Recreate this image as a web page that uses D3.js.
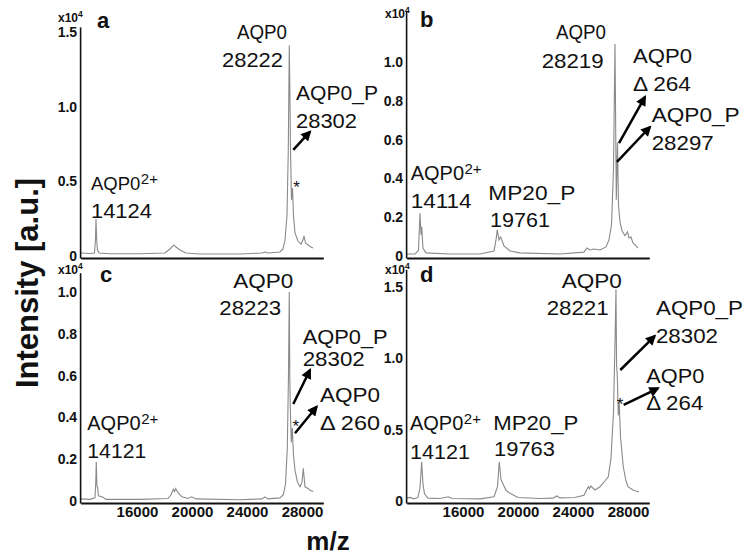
<!DOCTYPE html>
<html><head><meta charset="utf-8">
<script src="https://cdn.jsdelivr.net/npm/d3@7"></script>
<style>
body{margin:0;background:#fff}
svg{display:block}
text{font-family:"Liberation Sans",Arial,Helvetica,sans-serif;fill:#111}
</style>
</head><body>
<svg id="chart" width="750" height="559"></svg>
<script>
// ---------------- DATA (m/z, intensity in units of 10^4) ----------------
const mzA = [11900,12582,12909,12982,13018,13069,13127,13236,14036,16218,18036,18400,18691,18836,19127,19564,20582,23491,25091,25309,25527,26400,26618,26764,26909,27004,27076,27127,27164,27236,27309,27382,27491,27709,27927,28073,28145,28255,28436,28655,28800];
const intA = [0.02,0.017,0.02,0.11,0.25,0.11,0.04,0.02,0.015,0.015,0.02,0.047,0.074,0.06,0.04,0.02,0.013,0.013,0.02,0.027,0.02,0.027,0.047,0.107,0.27,0.71,1.41,1.04,0.71,0.375,0.455,0.27,0.154,0.10,0.08,0.107,0.134,0.087,0.074,0.06,0.054];

const mzB = [11900,12509,12764,12873,12945,12996,13091,13309,15055,17236,18255,18400,18495,18618,18742,18982,19418,20145,23055,24800,25018,25236,25527,25964,26400,26618,26800,26945,27055,27150,27236,27309,27418,27564,27782,27964,28073,28218,28364,28582,28727];
const intB = [0.01,0.01,0.03,0.22,0.11,0.15,0.04,0.016,0.01,0.01,0.026,0.083,0.135,0.083,0.098,0.052,0.026,0.016,0.01,0.02,0.041,0.031,0.036,0.031,0.047,0.083,0.16,0.445,1.093,0.29,0.585,0.264,0.176,0.13,0.104,0.124,0.093,0.098,0.067,0.052,0.041];

const mzC = [11900,12582,12945,13004,13040,13091,13135,13200,13527,13745,16218,18255,18473,18640,18727,18815,18982,19273,19709,19978,20291,23491,25091,25309,25527,26400,26640,26800,26931,27018,27076,27113,27149,27222,27295,27382,27491,27673,27855,28000,28095,28218,28436,28618,28822];
const intC = [0.01,0.008,0.015,0.09,0.188,0.07,0.065,0.025,0.018,0.008,0.008,0.012,0.03,0.056,0.045,0.06,0.04,0.02,0.012,0.02,0.01,0.006,0.01,0.02,0.01,0.015,0.03,0.08,0.25,0.6,1.0,0.6,0.45,0.28,0.35,0.22,0.148,0.09,0.068,0.09,0.156,0.068,0.06,0.05,0.045];

const mzD = [11900,12145,12436,12727,12873,12996,13091,13200,13455,14327,14931,15200,17236,18255,18509,18640,18764,18887,19127,19418,20000,21600,22545,22815,23055,24145,24800,25113,25200,25287,25600,25964,26327,26567,26764,26945,27055,27127,27171,27222,27295,27367,27455,27658,27855,28000,28364,28564,28800];
const intD = [0.02,0.025,0.015,0.025,0.09,0.275,0.12,0.05,0.02,0.018,0.03,0.018,0.015,0.03,0.1,0.275,0.15,0.124,0.075,0.054,0.025,0.018,0.02,0.035,0.022,0.025,0.04,0.1,0.085,0.105,0.077,0.1,0.14,0.17,0.3,0.62,1.1,1.483,0.95,0.88,0.6,0.685,0.45,0.24,0.14,0.1,0.077,0.07,0.065];

// tick values / labels
const xTicks = [16000, 20000, 24000, 28000];
const yTicksA = [0, 0.5, 1.0, 1.5];
const yTicksB = [0, 0.2, 0.4, 0.6, 0.8, 1.0];
const yTicksC = [0, 0.2, 0.4, 0.6, 0.8, 1.0];
const yTicksD = [0, 0.5, 1.0, 1.5];
const panelLetters = ["a", "b", "c", "d"];

// peak annotations (text, anchored in data coordinates)
const annotA = [
  {text:"AQP0", mz:23273, v:1.452, w:50},
  {text:"28222", mz:22182, v:1.265, w:61},
  {text:"AQP0_P", mz:27564, v:1.044, w:82},
  {text:"28302", mz:27564, v:0.857, w:61},
  {text:"AQP0", sup:"2+", mz:12655, v:0.442, fs:18.5},
  {text:"14124", mz:12655, v:0.254, w:61}
];
const annotB = [
  {text:"AQP0", mz:22764, v:1.119, w:50},
  {text:"28219", mz:21724, v:0.969, w:62},
  {text:"AQP0", mz:28364, v:0.995, w:59},
  {text:"Δ 264", mz:28364, v:0.851, w:58},
  {text:"AQP0_P", mz:29724, v:0.691, w:88},
  {text:"28297", mz:29724, v:0.546, w:62},
  {text:"AQP0", sup:"2+", mz:12196, v:0.392, fs:20},
  {text:"14114", mz:12196, v:0.247, w:61},
  {text:"MP20_P", mz:17840, v:0.289, w:87},
  {text:"19761", mz:17964, v:0.149, w:60}
];
const annotC = [
  {text:"AQP0", mz:23004, v:1.018, w:60},
  {text:"28223", mz:21986, v:0.89, w:62},
  {text:"AQP0_P", mz:28051, v:0.752, w:85},
  {text:"28302", mz:28051, v:0.645, w:62},
  {text:"AQP0", mz:29309, v:0.475, w:60},
  {text:"Δ 260", mz:29309, v:0.34, w:60},
  {text:"AQP0", sup:"2+", mz:12386, v:0.34, fs:20},
  {text:"14121", mz:12386, v:0.204, w:59}
];
const annotD = [
  {text:"AQP0", mz:23178, v:1.49, w:60},
  {text:"28221", mz:22087, v:1.303, w:62},
  {text:"AQP0_P", mz:30036, v:1.303, w:87},
  {text:"28302", mz:30036, v:1.105, w:62},
  {text:"AQP0", mz:29331, v:0.825, w:58},
  {text:"Δ 264", mz:29331, v:0.638, w:57},
  {text:"AQP0", sup:"2+", mz:12145, v:0.498, fs:20},
  {text:"14121", mz:12145, v:0.292, w:60},
  {text:"MP20_P", mz:18204, v:0.498, w:85},
  {text:"19763", mz:18255, v:0.315, w:61}
];
const starsA = [{mz:27368, v:0.42}];
const starsB = [];
const starsC = [{mz:27318, v:0.33}];
const starsD = [{mz:27178, v:0.638}];
const arrowsA = [{from:[27367,0.71], to:[28582,0.832]}];
const arrowsB = [{from:[27345,0.582], to:[29236,0.82]}, {from:[27200,0.485], to:[29600,0.665]}];
const arrowsC = [{from:[27367,0.464], to:[28582,0.627]}, {from:[27491,0.324], to:[29066,0.451]}];
const arrowsD = [{from:[27440,0.918], to:[29942,1.156]}, {from:[27687,0.673], to:[30182,0.79]}];

// ---------------- LAYOUT ----------------
const mzDomain = [11900, 29550];
const panels = [
  {mz:mzA, val:intA, ticks:yTicksA, x0:80.6, x1:323.3, y0:256, yTop:27.4, yMax:1.53, xLabels:false, annot:annotA, stars:starsA, arrows:arrowsA, expX:58, expY:21.5, letterX:97, letterY:28},
  {mz:mzB, val:intB, ticks:yTicksB, x0:406.6, x1:649.3, y0:256, yTop:11.6, yMax:1.26, xLabels:false, annot:annotB, stars:starsB, arrows:arrowsB, expX:385, expY:18, letterX:420, letterY:27},
  {mz:mzC, val:intC, ticks:yTicksC, x0:80.6, x1:323.3, y0:501, yTop:273.2, yMax:1.09, xLabels:true, annot:annotC, stars:starsC, arrows:arrowsC, expX:58, expY:274, letterX:100, letterY:282},
  {mz:mzD, val:intD, ticks:yTicksD, x0:406.6, x1:649.3, y0:501, yTop:269.8, yMax:1.62, xLabels:true, annot:annotD, stars:starsD, arrows:arrowsD, expX:385, expY:274, letterX:420, letterY:282}
];
const fmtY = d3.format(".1f");

const svg = d3.select("#chart");
svg.append("defs").append("marker")
  .attr("id", "ah").attr("viewBox", "0 0 10 10")
  .attr("refX", 8).attr("refY", 5)
  .attr("markerWidth", 4.6).attr("markerHeight", 4.2)
  .attr("orient", "auto")
  .append("path").attr("d", "M0,0 L10,5 L0,10 Z").attr("fill", "#000");

panels.forEach((p, i) => {
  const g = svg.append("g");
  const x = d3.scaleLinear().domain(mzDomain).range([p.x0, p.x1]);
  const y = d3.scaleLinear().domain([0, p.yMax]).range([p.y0, p.yTop]);

  // spectrum
  const pts = p.mz.map((m, k) => [m, p.val[k]]);
  g.append("path").datum(pts)
    .attr("d", d3.line().x(d => x(d[0])).y(d => y(d[1])))
    .attr("fill", "none").attr("stroke", "#8a8a8a").attr("stroke-width", 1.1);

  // y axis
  const ya = g.append("g").attr("transform", `translate(${p.x0},0)`)
    .call(d3.axisLeft(y).tickValues(p.ticks).tickFormat(v => v === 0 ? "0" : fmtY(v)).tickSize(0).tickPadding(3.5));
  ya.select(".domain").remove();
  ya.selectAll("text").attr("font-size", 14).attr("font-weight", "bold")
    .attr("font-family", '"Liberation Sans",Arial,sans-serif').attr("fill", "#111");
  g.append("line").attr("x1", p.x0).attr("x2", p.x0).attr("y1", p.y0 + 2.5).attr("y2", p.yTop)
    .attr("stroke", "#111").attr("stroke-width", 1.6);

  // x axis
  const xa = g.append("g").attr("transform", `translate(0,${p.y0 + 2})`)
    .call(d3.axisBottom(x).tickValues(p.xLabels ? xTicks : []).tickFormat(d3.format("d")).tickSize(0).tickPadding(3.5));
  xa.select(".domain").attr("stroke", "#111").attr("stroke-width", 2.2);
  xa.selectAll("text").attr("font-size", 15).attr("font-weight", "bold")
    .attr("font-family", '"Liberation Sans",Arial,sans-serif').attr("fill", "#111");

  // exponent label x10^4
  const e = g.append("text").attr("x", p.expX).attr("y", p.expY).attr("font-size", 12).attr("font-weight", "bold");
  e.append("tspan").text("x10");
  e.append("tspan").attr("font-size", 8.5).attr("dy", -5).text("4");

  // panel letter
  g.append("text").attr("x", p.letterX).attr("y", p.letterY).attr("font-size", 22).attr("font-weight", "bold").text(panelLetters[i]);

  // annotations
  p.annot.forEach(a => {
    const t = g.append("text").attr("x", x(a.mz)).attr("y", y(a.v)).attr("font-size", a.fs || 21);
    if (a.sup) {
      t.append("tspan").text(a.text);
      t.append("tspan").attr("font-size", 15).attr("dx", 0.5).attr("dy", -6).text(a.sup);
    } else {
      t.text(a.text);
      if (a.w) t.attr("textLength", a.w).attr("lengthAdjust", "spacingAndGlyphs");
    }
  });
  p.stars.forEach(s => {
    g.append("text").attr("x", x(s.mz)).attr("y", y(s.v)).attr("font-size", 17).text("*");
  });
  p.arrows.forEach(a => {
    g.append("line")
      .attr("x1", x(a.from[0])).attr("y1", y(a.from[1]))
      .attr("x2", x(a.to[0])).attr("y2", y(a.to[1]))
      .attr("stroke", "#000").attr("stroke-width", 2.5).attr("marker-end", "url(#ah)");
  });
});

// axis titles
svg.append("text").attr("transform", "translate(38,283) rotate(-90)")
  .attr("text-anchor", "middle").attr("font-size", 31).attr("font-weight", "bold").text("Intensity [a.u.]");
svg.append("text").attr("x", 328).attr("y", 550)
  .attr("text-anchor", "middle").attr("font-size", 26).attr("font-weight", "bold").text("m/z");
</script>
</body></html>
